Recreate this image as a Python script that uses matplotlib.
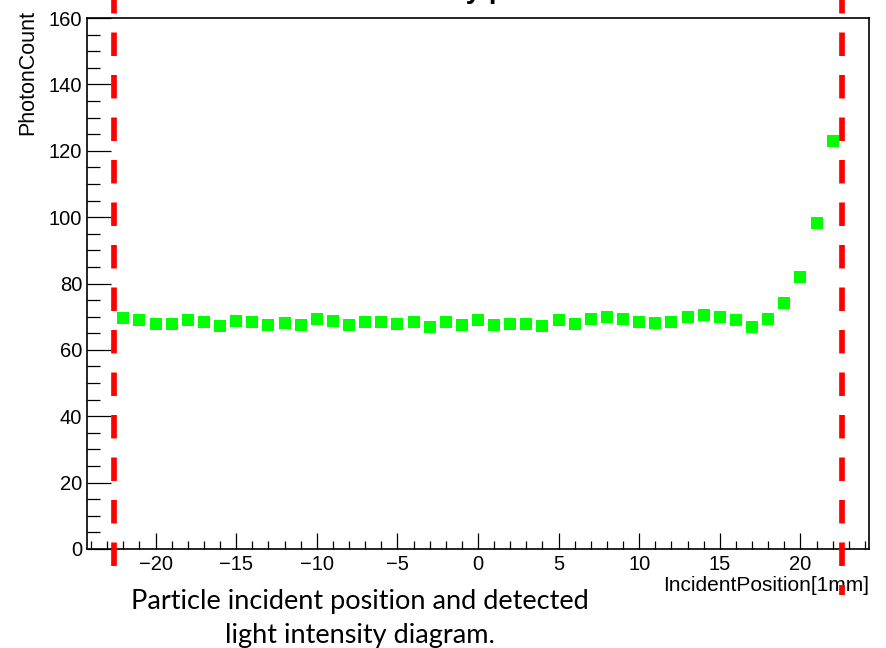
import numpy as np
import matplotlib
matplotlib.use("Agg")
import matplotlib.pyplot as plt
from matplotlib.ticker import MultipleLocator

# Data
position = list(range(-22, 23))
photon_count = [69.6, 69.0, 67.7, 67.7, 69.0, 68.5, 67.2, 68.8, 68.5, 67.4,
                68.0, 67.4, 69.3, 68.8, 67.4, 68.3, 68.5, 67.7, 68.3, 66.9,
                68.3, 67.4, 69.0, 67.5, 67.8, 67.8, 67.2, 69.0, 67.8, 69.3,
                70.0, 69.3, 68.3, 68.0, 68.3, 69.8, 70.5, 70.0, 69.0, 67.0,
                69.2, 74.0, 82.0, 98.3, 123.0]
edge_positions = [-22.55, 22.55]
edge_bottoms = [-0.036, -0.087]

xlabel = "IncidentPosition[1mm]"
ylabel = "PhotonCount"
caption = ["Particle incident position and detected", "light intensity diagram."]

plt.rcParams["font.family"] = ["Liberation Sans", "DejaVu Sans"]
plt.rcParams["lines.scale_dashes"] = False

fig = plt.figure(figsize=(8.87, 6.48), dpi=100)
ax = fig.add_axes([0.0981, 0.1528, 0.8816, 0.8194])

# Points
ax.plot(position, photon_count, linestyle="none", marker="s", markersize=9,
        color="#00ff00", markeredgewidth=0, zorder=3)

ax.set_xlim(-24.25, 24.25)
ax.set_ylim(0, 160)

# ROOT-like axes
ax.xaxis.set_major_locator(MultipleLocator(5))
ax.xaxis.set_minor_locator(MultipleLocator(1))
ax.yaxis.set_major_locator(MultipleLocator(20))
ax.yaxis.set_minor_locator(MultipleLocator(5))
ax.tick_params(axis="both", which="both", direction="in", top=False, right=False,
               width=0.9, labelsize=14.5)
ax.tick_params(axis="x", which="major", length=11.5, pad=4.5)
ax.tick_params(axis="x", which="minor", length=5.8)
ax.tick_params(axis="y", which="major", length=17.3, pad=3.5)
ax.tick_params(axis="y", which="minor", length=9.4)
for sp in ax.spines.values():
    sp.set_linewidth(1.2)

ax.set_xlabel(xlabel, loc="right", fontsize=15)
ax.xaxis.set_label_coords(1.0, -0.05)
ax.set_ylabel(ylabel, loc="top", fontsize=15.5)
ax.yaxis.set_label_coords(-0.062, 1.015)

# Red dashed edge markers, from the top of the image to below the frame
for xe, yb in zip(edge_positions, edge_bottoms):
    ax.plot([xe, xe], [1.0339, yb], transform=ax.get_xaxis_transform(),
            color="#ff0000", linewidth=4.1, clip_on=False, zorder=4,
            linestyle=(7.2, (16.9, 13.7)))

# Title mostly cut off at the top of the image
fig.text(470 / 887, 1.0 + 1.5 / 648, "Intensity profile", ha="center",
         va="baseline", fontsize=20, fontweight="bold")

# Caption below
fig.text(360 / 887, 1 - 609 / 648, caption[0], ha="center", va="baseline",
         fontsize=19.5, family=["Lato", "DejaVu Sans"])
fig.text(360 / 887, 1 - 643 / 648, caption[1], ha="center", va="baseline",
         fontsize=19.5, family=["Lato", "DejaVu Sans"])

fig.savefig("out.png", dpi=100)
